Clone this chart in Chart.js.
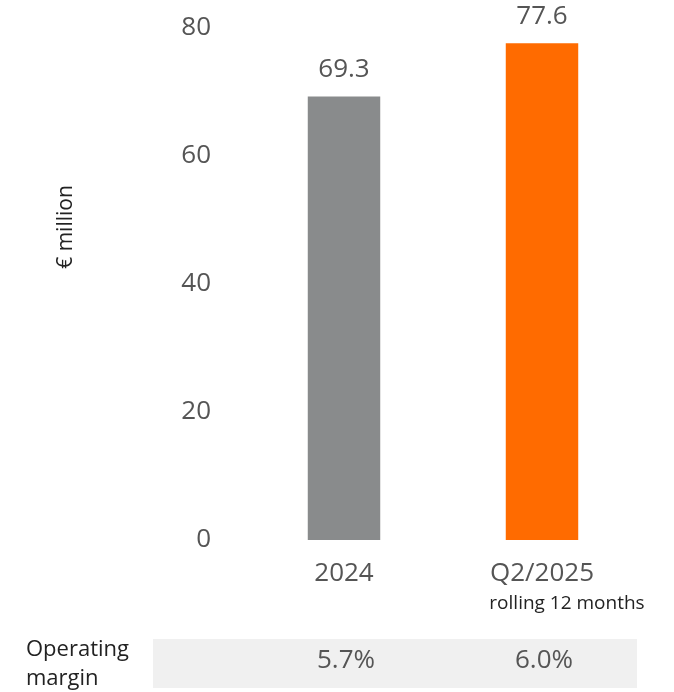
<!DOCTYPE html>
<html>
<head>
<meta charset="utf-8">
<script src="https://cdn.jsdelivr.net/npm/chart.js@4/dist/chart.umd.min.js"></script>
<style>
  html, body { margin: 0; padding: 0; background: #fff; }
  #wrap { width: 674px; height: 692px; position: relative; }
</style>
</head>
<body>
<div id="wrap"><canvas id="ebitChart" width="674" height="692"></canvas></div>
<script>
// data
const categories = ['2024', 'Q2/2025'];
const subLabels = ['', 'rolling 12 months'];
const values = [69.3, 77.6];
const valueLabels = ['69.3', '77.6'];
const margins = ['5.7%', '6.0%'];
const barColors = ['#898b8c', '#ff6b00'];
const yTicks = [0, 20, 40, 60, 80];

const FONT = "'Open Sans', sans-serif";

// extra texts: value labels, subtitle, margin row, y title
const extrasPlugin = {
    id: 'extras',
    afterDraw(chart) {
        const ctx = chart.ctx;
        const meta = chart.getDatasetMeta(0);
        ctx.save();

        // value labels above bars
        ctx.fillStyle = '#555';
        ctx.font = '26px ' + FONT;
        ctx.textAlign = 'center';
        ctx.textBaseline = 'middle';
        meta.data.forEach((bar, i) => {
            ctx.fillText(valueLabels[i], bar.x, bar.y - 27);
        });

        // second line under category
        ctx.fillStyle = '#222';
        ctx.font = '19px ' + FONT;
        meta.data.forEach((bar, i) => {
            if (subLabels[i]) ctx.fillText(subLabels[i], bar.x + 25, 604);
        });

        // operating margin band
        ctx.fillStyle = '#f0f0f0';
        ctx.fillRect(153, 639, 484, 49);
        ctx.fillStyle = '#555';
        ctx.font = '26px ' + FONT;
        meta.data.forEach((bar, i) => {
            ctx.fillText(margins[i], bar.x + 2, 661);
        });

        ctx.fillStyle = '#222';
        ctx.font = '22px ' + FONT;
        ctx.textAlign = 'left';
        ctx.fillText('Operating', 26, 650);
        ctx.fillText('margin', 26, 679);

        // y axis title
        ctx.font = '21px ' + FONT;
        ctx.translate(66, 227);
        ctx.rotate(-Math.PI / 2);
        ctx.textAlign = 'center';
        ctx.fillText('€ million', 0, 0);

        ctx.restore();
    }
};

new Chart(document.getElementById('ebitChart').getContext('2d'), {
    type: 'bar',
    data: {
        labels: categories,
        datasets: [{
            data: values,
            backgroundColor: barColors,
            borderWidth: 0,
            categoryPercentage: 1,
            barPercentage: 0.366
        }]
    },
    options: {
        responsive: false,
        animation: false,
        devicePixelRatio: 1,
        layout: { padding: { top: 28, right: 33, left: 0, bottom: 0 } },
        plugins: { legend: { display: false }, tooltip: { enabled: false } },
        scales: {
            y: {
                min: 0, max: 80,
                afterFit(scale) {
                    scale.width = 245;
                    // tick padding should not push the chart area down
                    scale.paddingTop = 0;
                    scale.paddingBottom = 0;
                },
                afterBuildTicks(scale) { scale.ticks = yTicks.map(v => ({ value: v })); },
                grid: { display: false, drawTicks: false },
                border: { display: false },
                ticks: { color: '#555', font: { family: FONT, size: 26 }, padding: 34 }
            },
            x: {
                afterFit(scale) { scale.height = 152; },
                grid: { display: false, drawTicks: false },
                border: { display: false },
                ticks: { color: '#555', font: { family: FONT, size: 26 }, padding: 18 }
            }
        }
    },
    plugins: [extrasPlugin]
});
</script>
</body>
</html>
